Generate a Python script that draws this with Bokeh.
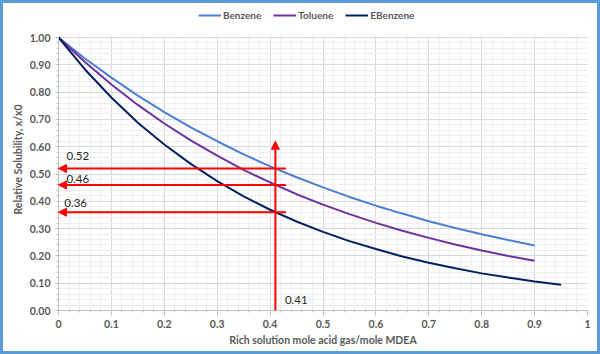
from bokeh.plotting import figure
from bokeh.models import (Range1d, FixedTicker, NumeralTickFormatter, Legend, LegendItem,
                          Arrow, NormalHead, ColumnDataSource, BoxAnnotation)
from bokeh.core.properties import value
from bokeh.embed import file_html
from bokeh.resources import INLINE

# ---- data ----
x_bt = [0.0, 0.05, 0.10, 0.15, 0.20, 0.25, 0.30, 0.35, 0.40, 0.45, 0.50,
        0.55, 0.60, 0.65, 0.70, 0.75, 0.80, 0.85, 0.90]
benzene = [1.000, 0.923, 0.853, 0.787, 0.727, 0.671, 0.620, 0.572, 0.528, 0.488, 0.451,
           0.416, 0.384, 0.355, 0.327, 0.302, 0.279, 0.258, 0.238]
toluene = [1.000, 0.910, 0.828, 0.753, 0.685, 0.623, 0.567, 0.515, 0.469, 0.426, 0.388,
           0.353, 0.321, 0.292, 0.266, 0.242, 0.220, 0.200, 0.182]
x_eb = [0.0, 0.05, 0.10, 0.15, 0.20, 0.25, 0.30, 0.35, 0.40, 0.45, 0.50,
        0.55, 0.60, 0.65, 0.70, 0.75, 0.80, 0.85, 0.90, 0.95]
ebenzene = [1.000, 0.883, 0.780, 0.688, 0.608, 0.537, 0.474, 0.418, 0.369, 0.326, 0.288,
            0.254, 0.225, 0.198, 0.175, 0.155, 0.136, 0.121, 0.106, 0.094]

series_names = ["Benzene", "Toluene", "EBenzene"]
series_colors = ["#4a7fd4", "#7030a0", "#002060"]

read_x = 0.41
read_values = [0.52, 0.46, 0.36]
read_labels = ["0.52", "0.46", "0.36"]
arrow_right_x = 0.43
arrow_top_y = 0.62
label_x = [0.015, 0.015, 0.011]
label_y = [0.566, 0.481, 0.392]
x_label_pos = (0.428, 0.037)

x_ticks = [i / 10 for i in range(11)]
y_ticks = [i / 10 for i in range(11)]
minor = [i / 50 for i in range(51)]

FONT = "Lato"
GRAY = "#595959"
B = 3  # outer frame thickness (canvas is offset by B inside the border)
W, H = 600, 354

# layout (page pixels): plot area x=58..587, y=37..310; the frame is extended upward
FRAME_TOP = 8
PLOT_LEFT, PLOT_RIGHT = 58, 587
PLOT_TOP, PLOT_BOTTOM = 37, 310
y_top = y_ticks[-1] * (PLOT_BOTTOM - FRAME_TOP) / (PLOT_BOTTOM - PLOT_TOP)

p = figure(width=W, height=H, x_range=Range1d(0, 1), y_range=Range1d(0, y_top),
           output_backend="svg", toolbar_location=None,
           min_border_left=PLOT_LEFT - B, min_border_right=W + B - PLOT_RIGHT,
           min_border_top=FRAME_TOP - B, min_border_bottom=H + B - PLOT_BOTTOM)
p.outline_line_color = None
p.background_fill_color = "white"
p.border_fill_color = "white"
p.styles = {"border": "%dpx solid #5b9bd5" % B}

for g, t in ((p.xgrid, x_ticks), (p.ygrid, y_ticks)):
    g.ticker = FixedTicker(ticks=t, minor_ticks=minor)
    g.grid_line_color = "#d9d9d9"
    g.grid_line_width = 1
    g.minor_grid_line_color = "#efefef"
    g.minor_grid_line_width = 1

# white cover above the plot area (hides grid lines above y=1)
p.add_layout(BoxAnnotation(bottom=y_ticks[-1] + 1.0 / (PLOT_BOTTOM - PLOT_TOP), fill_color="white",
                           fill_alpha=1, line_color=None, level="underlay"))

p.xaxis.ticker = FixedTicker(ticks=x_ticks, minor_ticks=minor)
p.yaxis.ticker = FixedTicker(ticks=y_ticks, minor_ticks=minor)
p.yaxis.bounds = (0, 1)
p.xaxis.formatter = NumeralTickFormatter(format="0.[0]")
p.yaxis.formatter = NumeralTickFormatter(format="0.00")

for ax in (p.xaxis, p.yaxis):
    ax.axis_line_color = "#bfbfbf"
    ax.major_tick_line_color = "#bfbfbf"
    ax.minor_tick_line_color = "#bfbfbf"
    ax.major_tick_in = 0
    ax.minor_tick_in = 0
    ax.major_label_text_font = FONT
    ax.major_label_text_font_style = "bold"
    ax.major_label_text_font_size = "10.5px"
    ax.major_label_text_color = GRAY
    ax.axis_label_text_font = FONT
    ax.axis_label_text_font_style = "bold"
    ax.axis_label_text_font_size = "10.5px"
    ax.axis_label_text_color = GRAY

p.xaxis.major_tick_out = 5
p.xaxis.minor_tick_out = 2
p.xaxis.major_label_standoff = 4
p.xaxis.axis_label = "Rich solution mole acid gas/mole MDEA"
p.xaxis.axis_label_standoff = 3

p.yaxis.major_tick_out = 3
p.yaxis.minor_tick_out = 2
p.yaxis.major_label_standoff = 5
p.yaxis.axis_label = "Relative Solubility, x/x0"
p.yaxis.axis_label_standoff = 3

r1 = p.line(x_bt, benzene, line_color=series_colors[0], line_width=2)
r2 = p.line(x_bt, toluene, line_color=series_colors[1], line_width=2)
r3 = p.line(x_eb, ebenzene, line_color=series_colors[2], line_width=2)

legend = Legend(items=[LegendItem(label=n, renderers=[r]) for n, r in zip(series_names, [r1, r2, r3])],
                orientation="horizontal", location=(140, 289),
                label_text_font=FONT, label_text_font_style="bold", label_text_font_size="10px",
                label_text_color=GRAY, glyph_width=23, glyph_height=12, label_height=12,
                label_standoff=2, spacing=12, padding=0, margin=0,
                border_line_color=None, background_fill_alpha=0)
p.add_layout(legend, "center")

arrow_src = ColumnDataSource(dict(
    x_start=[arrow_right_x] * len(read_values) + [read_x],
    y_start=read_values + [0.0],
    x_end=[0.0] * len(read_values) + [read_x],
    y_end=read_values + [arrow_top_y],
))
p.add_layout(Arrow(end=NormalHead(size=8, fill_color="#ff0000", line_color="#ff0000", line_width=1),
                   source=arrow_src, x_start="x_start", y_start="y_start", x_end="x_end", y_end="y_end",
                   line_color="#ff0000", line_width=2))

txt_src = ColumnDataSource(dict(x=label_x + [x_label_pos[0]], y=label_y + [x_label_pos[1]],
                                t=read_labels + ["%.2f" % read_x]))
p.text("x", "y", text="t", source=txt_src, text_font=value(FONT), text_font_size="11.5px",
       text_color="#262626", text_baseline="middle", text_align="left")

open("out.html", "w").write(file_html(p, INLINE))
